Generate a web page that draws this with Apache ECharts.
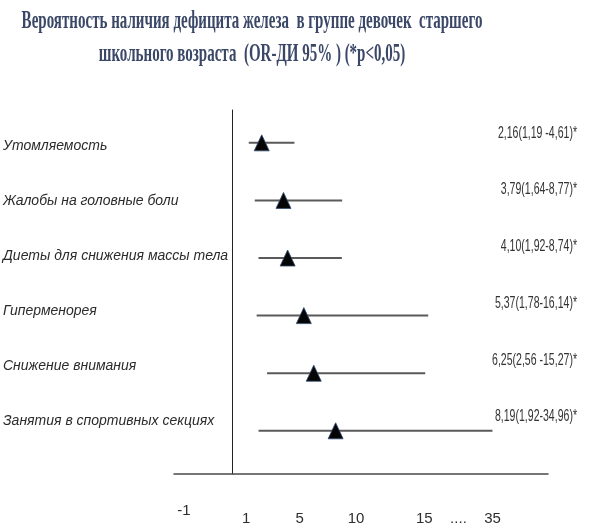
<!DOCTYPE html>
<html>
<head>
<meta charset="utf-8">
<script src="https://cdn.jsdelivr.net/npm/echarts@6/dist/echarts.min.js"></script>
<style>
  html, body { margin: 0; padding: 0; background: #fff; }
  #chart { width: 592px; height: 528px; }
</style>
</head>
<body>
<div id="chart"></div>
<script>
// Odds ratios with 95% confidence intervals
const categories = [
  'Утомляемость',
  'Жалобы на головные боли',
  'Диеты для снижения массы тела',
  'Гиперменорея',
  'Снижение внимания',
  'Занятия в спортивных секциях'
];
const orValues = [2.16, 3.79, 4.10, 5.37, 6.25, 8.19];
const ciLow = [1.19, 1.64, 1.92, 1.78, 2.56, 1.92];
const ciHigh = [4.61, 8.77, 8.74, 16.14, 15.27, 34.96];
const orLabels = [
  '2,16(1,19 -4,61)*',
  '3,79(1,64-8,77)*',
  '4,10(1,92-8,74)*',
  '5,37(1,78-16,14)*',
  '6,25(2,56 -15,27)*',
  '8,19(1,92-34,96)*'
];
const tickValues = [-1, 1, 5, 10, 15, 35];
const tickLabels = ['-1', '1', '5', '10', '15', '35'];
const gapLabel = '....';

const titleLines = [
  'Вероятность наличия дефицита железа  в группе девочек  старшего',
  'школьного возраста  (OR-ДИ 95% ) (*p<0,05)'
];

// The OR axis is broken/uneven: each tick value gets its own stop on the axis,
// and values in between are placed linearly between neighbouring stops.
const axisStops = [-49, 14, 68, 125, 194, 263];
function toAxis(v) {
  for (let k = 0; k < tickValues.length - 1; k++) {
    const a = tickValues[k], b = tickValues[k + 1];
    if (v <= b || k === tickValues.length - 2) {
      const t = (v - a) / (b - a);
      return axisStops[k] + t * (axisStops[k + 1] - axisStops[k]);
    }
  }
}
const gapStop = (axisStops[4] + axisStops[5]) / 2;
const labelStops = axisStops.slice(0, 5).concat([gapStop, axisStops[5]]);
const labelTexts = tickLabels.slice(0, 5).concat([gapLabel, tickLabels[5]]);

const sans = "'Liberation Sans', Arial, sans-serif";

const chart = echarts.init(document.getElementById('chart'), null, { renderer: 'canvas' });

const rows = categories.map((c, i) => [i, orValues[i], ciLow[i], ciHigh[i]]);

chart.setOption({
  backgroundColor: '#ffffff',
  animation: false,
  graphic: titleLines.map((t, i) => ({
    type: 'text',
    x: 252,
    y: i === 0 ? 22 : 55,
    scaleX: 0.6,
    style: {
      text: t,
      font: "bold 25px 'Liberation Serif', 'Times New Roman', serif",
      fill: '#3a4767',
      align: 'center',
      verticalAlign: 'middle'
    }
  })),
  grid: { left: 170, right: 44, top: 110, bottom: 54, containLabel: false },
  xAxis: {
    type: 'value',
    min: -59,
    max: 319,
    splitLine: { show: false },
    axisTick: { show: false },
    axisLine: { show: true, onZero: false, lineStyle: { color: '#4a4a4a', width: 1.5 } },
    axisLabel: {
      customValues: labelStops,
      margin: 45,
      verticalAlign: 'middle',
      color: '#2e2e2e',
      fontFamily: sans,
      fontSize: 15,
      formatter: (v) => {
        const k = labelStops.findIndex((s) => Math.abs(s - v) < 1e-6);
        const txt = k >= 0 ? labelTexts[k] : '';
        return txt === '-1' ? '{up|' + txt + '}' : txt;
      },
      rich: { up: { fontFamily: sans, fontSize: 15, color: '#2e2e2e', padding: [0, 0, 16, 0] } }
    }
  },
  yAxis: [
    {
      type: 'value',
      inverse: true,
      min: -0.57,
      max: 5.75,
      splitLine: { show: false },
      axisTick: { show: false },
      axisLabel: { show: false },
      axisLine: { show: true, onZero: true, lineStyle: { color: '#222', width: 1 } }
    },
    {
      type: 'value',
      inverse: true,
      position: 'left',
      min: -0.655,
      max: 5.964,
      splitLine: { show: false },
      axisTick: { show: false },
      axisLine: { show: false, onZero: false },
      axisLabel: {
        customValues: categories.map((c, i) => i),
        formatter: (v) => categories[Math.round(v)] || '',
        align: 'left',
        margin: 171,
        color: '#2b2b2b',
        fontFamily: sans,
        fontStyle: 'italic',
        fontSize: 14
      }
    }
  ],
  series: [{
    type: 'custom',
    xAxisIndex: 0,
    yAxisIndex: 0,
    data: rows,
    renderItem: (params, api) => {
      const i = api.value(0);
      const mid = api.coord([toAxis(api.value(1)), i]);
      const lo = api.coord([toAxis(api.value(2)), i]);
      const hi = api.coord([toAxis(api.value(3)), i]);
      const cs = params.coordSys;
      return {
        type: 'group',
        children: [
          {
            type: 'line',
            shape: { x1: lo[0], y1: lo[1], x2: hi[0], y2: hi[1] },
            style: { stroke: '#5a5a5a', lineWidth: 2 }
          },
          {
            type: 'polygon',
            shape: { points: [[mid[0], mid[1] - 8], [mid[0] - 7.5, mid[1] + 8], [mid[0] + 7.5, mid[1] + 8]] },
            style: { fill: '#050505', stroke: '#2f4a6e', lineWidth: 0.8 }
          },
          {
            type: 'text',
            x: cs.x + cs.width + 29,
            y: mid[1] - 10 - i * 0.8,
            scaleX: 0.62,
            style: {
              text: orLabels[i],
              font: "17px 'Liberation Sans', Arial, sans-serif",
              fill: '#333',
              align: 'right',
              verticalAlign: 'middle'
            }
          }
        ]
      };
    }
  }]
});
</script>
</body>
</html>
